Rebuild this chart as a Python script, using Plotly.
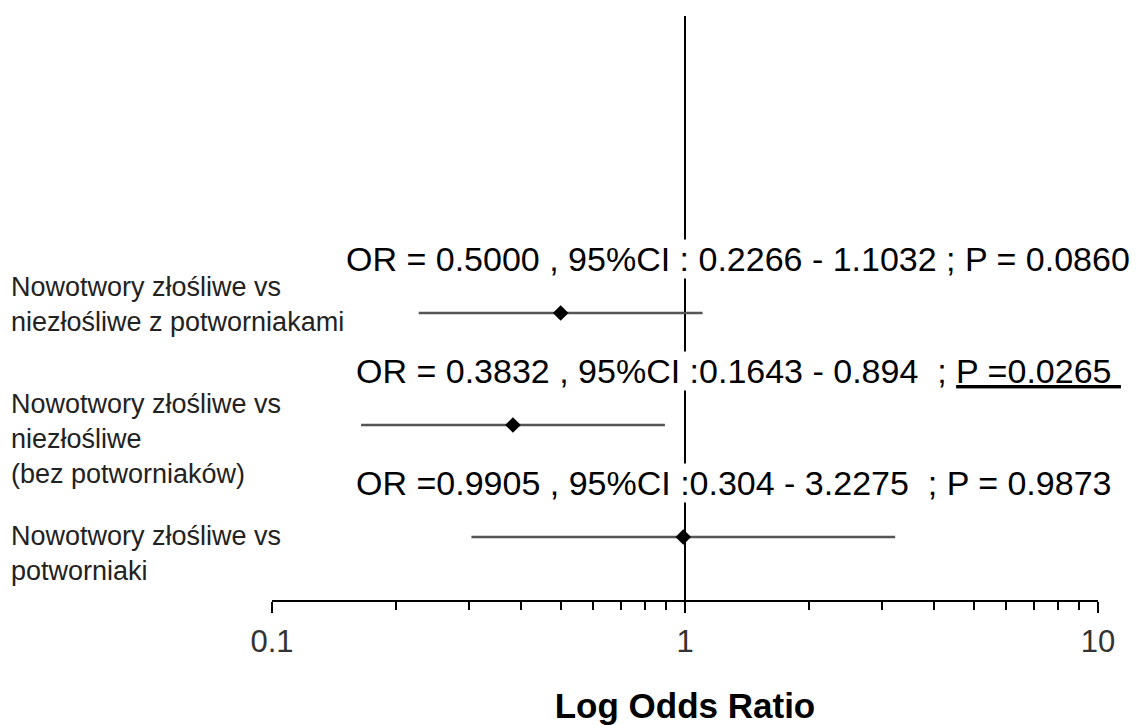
import plotly.graph_objects as go

# ---- data ----
comparisons = [
    "Nowotwory złośliwe vs<br>niezłośliwe z potworniakami",
    "Nowotwory złośliwe vs<br>niezłośliwe<br>(bez potworniaków)",
    "Nowotwory złośliwe vs<br>potworniaki",
]
odds_ratio = [0.5000, 0.3832, 0.9905]
ci_low = [0.2266, 0.1643, 0.304]
ci_high = [1.1032, 0.894, 3.2275]
stat_labels = [
    "OR = 0.5000 , 95%CI : 0.2266 - 1.1032 ; P = 0.0860",
    "OR = 0.3832 , 95%CI :0.1643 - 0.894 \u00a0; <u>P =0.0265\u00a0</u>",
    "OR =0.9905 , 95%CI :0.304 - 3.2275 \u00a0; P = 0.9873",
]
tick_values = [0.1, 1, 10]
tick_labels = ["0.1", "1", "10"]
minor_tick_values = [k * 10 ** e for e in (-1, 0) for k in range(2, 10)]

n = len(comparisons)
rows = [n - i for i in range(n)]

fig = go.Figure()

# CI lines
for i in range(n):
    fig.add_trace(go.Scatter(
        x=[ci_low[i], ci_high[i]], y=[rows[i], rows[i]],
        mode="lines", line=dict(color="#555555", width=2.5),
        showlegend=False, hoverinfo="skip"))

# point estimates
fig.add_trace(go.Scatter(
    x=odds_ratio, y=rows, mode="markers",
    marker=dict(symbol="diamond", size=12, color="black"),
    showlegend=False))

# reference line at OR = 1
fig.add_shape(type="line", xref="x", yref="paper", x0=1, x1=1, y0=0, y1=1,
              line=dict(color="black", width=2), layer="below")

# statistics text
stat_x = [0.088, 0.101, 0.101]
for i in range(n):
    fig.add_annotation(
        x=stat_x[i], xref="paper", y=rows[i], yref="y", yshift=54,
        text=stat_labels[i], showarrow=False, xanchor="left", yanchor="middle",
        font=dict(family="Liberation Sans, Arial, sans-serif", size=34, color="black"),
        bgcolor="white", borderpad=0)

# row labels
label_shift = [43, 38, 18]
for i in range(n):
    fig.add_annotation(
        x=-0.318, xref="paper", y=rows[i], yref="y", yshift=label_shift[i],
        text=comparisons[i], showarrow=False, xanchor="left", yanchor="top",
        align="left",
        font=dict(family="Liberation Sans, Arial, sans-serif", size=27, color="#222222"))

fig.update_layout(
    width=1132, height=717,
    margin=dict(l=264, r=42, t=8, b=125),
    plot_bgcolor="white", paper_bgcolor="white",
    xaxis=dict(
        type="log", range=[-1, 1],
        tickvals=tick_values, ticktext=tick_labels,
        ticks="outside", ticklen=11, tickwidth=2, tickcolor="black",
        showline=True, linecolor="black", linewidth=2,
        showgrid=False, zeroline=False,
        tickfont=dict(family="Liberation Sans, Arial, sans-serif", size=31, color="#333333"),
        ticklabelstandoff=2,
        minor=dict(tickvals=minor_tick_values, ticks="outside", ticklen=8,
                   tickwidth=2, tickcolor="black", showgrid=False),
        title=dict(text="<b>Log Odds Ratio</b>", standoff=36,
                   font=dict(family="Liberation Sans, Arial, sans-serif", size=35, color="black")),
        automargin=False,
    ),
    yaxis=dict(range=[0.4375, 5.652], visible=False, showgrid=False, zeroline=False),
)

fig.write_html("out.html")
